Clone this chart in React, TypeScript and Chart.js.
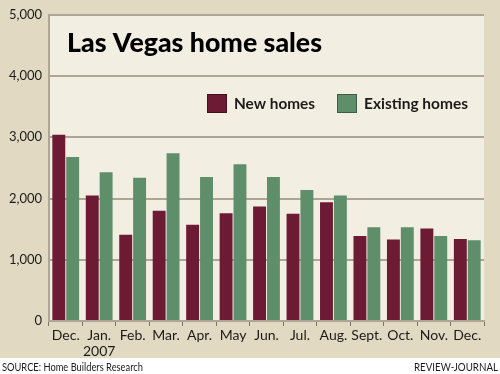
import React, { useEffect, useRef } from "react";
import { Chart, registerables } from "chart.js";
Chart.register(...registerables);

const TITLE = "Las Vegas home sales";
const SOURCE = "SOURCE: Home Builders Research";
const CREDIT = "REVIEW-JOURNAL";
const MONTHS: (string | string[])[] = [
  "Dec.", ["Jan.", "2007"], "Feb.", "Mar.", "Apr.", "May", "Jun.", "Jul.", "Aug.", "Sept.", "Oct.", "Nov.", "Dec.",
];
const SERIES_LABELS = ["New homes", "Existing homes"];
const NEW_HOMES = [3040, 2050, 1410, 1800, 1570, 1760, 1870, 1750, 1940, 1390, 1330, 1510, 1340];
const EXISTING_HOMES = [2680, 2430, 2340, 2740, 2350, 2560, 2350, 2140, 2050, 1530, 1530, 1390, 1320];
const Y_MIN = 0;
const Y_MAX = 5000;
const Y_STEP = 1000;

const FONT = "Lato, 'Open Sans', sans-serif";
const TAN = "#e1d9c2";
const CREAM = "#f3eee2";
const MAROON = "#6d1a35";
const GREEN = "#5f8e6a";
const GRID = "#aea595";
const TEXT = "#1b1b1b";

const decorPlugin = {
  id: "decor",
  beforeDraw(chart: any) {
    const { ctx, chartArea, width, height } = chart;
    ctx.save();
    ctx.fillStyle = "#ffffff";
    ctx.fillRect(0, 0, width, height);
    ctx.fillStyle = TAN;
    ctx.fillRect(0, 0, width, 358);
    ctx.fillStyle = CREAM;
    ctx.fillRect(chartArea.left, chartArea.top, chartArea.right - chartArea.left, chartArea.bottom - chartArea.top);
    ctx.restore();
  },
  afterDraw(chart: any) {
    const { ctx, chartArea, width } = chart;
    ctx.save();
    // title
    ctx.fillStyle = "#000";
    ctx.font = `900 27px ${FONT}`;
    ctx.textBaseline = "alphabetic";
    ctx.textAlign = "left";
    ctx.fillText(TITLE, chartArea.left + 18, 52, 255);
    // legend
    ctx.font = `bold 16px ${FONT}`;
    ctx.textBaseline = "middle";
    const colors = [MAROON, GREEN];
    const xs = [207, 337];
    const tw = [81, 104];
    SERIES_LABELS.forEach((lab, i) => {
      const x = xs[i];
      ctx.fillStyle = colors[i];
      ctx.fillRect(x, 94, 20, 19);
      ctx.strokeStyle = "rgba(0,0,0,0.35)";
      ctx.lineWidth = 1;
      ctx.strokeRect(x + 0.5, 94.5, 19, 18);
      ctx.fillStyle = TEXT;
      ctx.fillText(lab, x + 27, 104, tw[i]);
    });
    // source / credit
    ctx.font = `12px ${FONT}`;
    ctx.textBaseline = "alphabetic";
    ctx.fillStyle = TEXT;
    ctx.textAlign = "left";
    ctx.fillText(SOURCE, 2, 371, 141);
    ctx.textAlign = "right";
    ctx.fillText(CREDIT, width - 2, 371, 84);
    ctx.restore();
  },
};

export default function App() {
  const ref = useRef<HTMLCanvasElement>(null);
  useEffect(() => {
    if (!ref.current) return;
    const chart = new Chart(ref.current, {
      type: "bar",
      data: {
        labels: MONTHS as any,
        datasets: [
          { label: SERIES_LABELS[0], data: NEW_HOMES, backgroundColor: MAROON, barPercentage: 0.93, categoryPercentage: 0.83 },
          { label: SERIES_LABELS[1], data: EXISTING_HOMES, backgroundColor: GREEN, barPercentage: 0.93, categoryPercentage: 0.83 },
        ],
      },
      options: {
        animation: false,
        responsive: false,
        devicePixelRatio: 1,
        layout: { padding: { top: 14, right: 16, left: 0, bottom: 0 } },
        plugins: { legend: { display: false }, title: { display: false }, tooltip: { enabled: false } },
        scales: {
          x: {
            type: "category",
            grid: { offset: true, drawOnChartArea: false, tickLength: 5, color: "#7d7566", lineWidth: 1 },
            border: { display: true, color: GRID, width: 2 },
            ticks: { font: { family: FONT, size: 14, lineHeight: 1.15 }, color: TEXT, padding: 1, maxRotation: 0, autoSkip: false },
            afterFit: (s: any) => { s.height = 53; },
          },
          y: {
            min: Y_MIN,
            max: Y_MAX,
            grid: { color: GRID, lineWidth: 2, drawTicks: false },
            border: { display: true, color: GRID, width: 2 },
            ticks: {
              stepSize: Y_STEP,
              padding: 7,
              color: TEXT,
              font: { family: FONT, size: 13 },
              callback: (v: any) => Number(v).toLocaleString("en-US"),
            },
            afterFit: (s: any) => { s.width = 49; },
          },
        },
      },
      plugins: [decorPlugin],
    });
    return () => chart.destroy();
  }, []);
  return (
    <div style={{ position: "fixed", left: 0, top: 0, width: 500, height: 374 }}>
      <canvas ref={ref} width={500} height={374} />
    </div>
  );
}
